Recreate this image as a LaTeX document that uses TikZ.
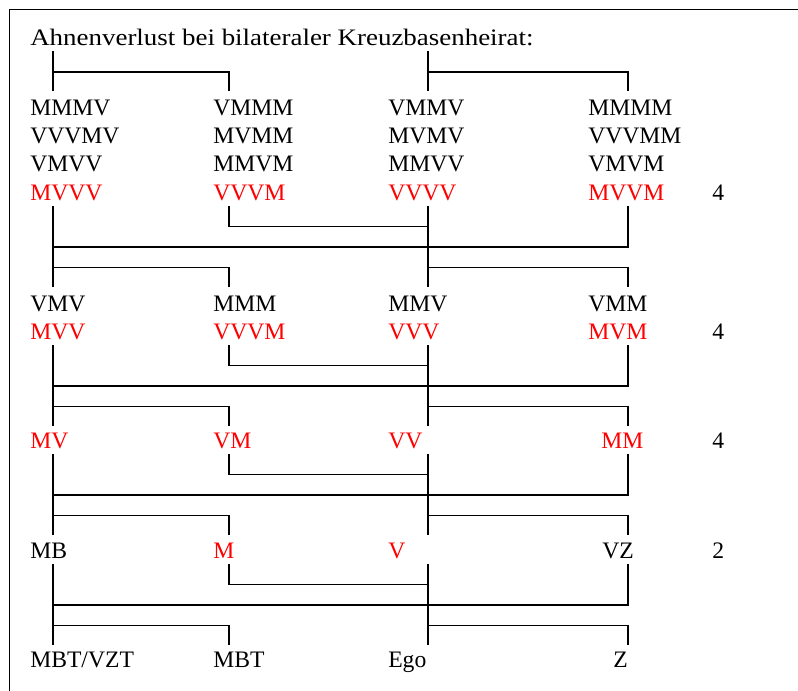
\documentclass[tikz,border=0pt]{standalone}
\usepackage{fontspec}
\setmainfont{Liberation Serif}
\usepackage{xcolor}
\usepackage{tikz}
\definecolor{Loss}{HTML}{FF0000}

\begin{document}
\begin{tikzpicture}[
	x = 0.025cm, y = -0.025cm,
	kin/.style = {anchor=base west, inner sep=0pt, font=\fontsize{16.8pt}{20.1pt}\selectfont},
	lost/.style = {kin, text=Loss},
	tally/.style = {kin},
	link/.style = {draw, line width=1.05pt}
]
  \useasboundingbox (0, 0) rectangle (798, 691);
  \draw[line width=1.1pt] (9.5, 691) -- (9.5, 9.5) -- (798, 9.5);

  \node[kin] at (30, 45) (title) {\scalebox{1.14}[1]{Ahnenverlust bei bilateraler Kreuzbasenheirat:}};

  % Great-great-grandparents, four lines per column
  \foreach \c/\x/\names/\lostname in {a/30/{MMMV,VVVMV,VMVV}/MVVV, b/213/{VMMM,MVMM,MMVM}/VVVM,
                                      c/388/{VMMV,MVMV,MMVV}/VVVV, d/588/{MMMM,VVVMM,VMVM}/MVVM} {
    \foreach \t [count=\i] in \names
      \node[kin] at (\x, {115+28.3*(\i-1)}) (\c4-\i) {\t};
    \node[lost] at (\x, 200) (\c4-4) {\lostname};
  }
  \node[kin] at (30, 311) (a3-1) {VMV};
  \node[lost] at (30, 339) (a3-2) {MVV};
  \node[kin] at (213, 311) (b3-1) {MMM};
  \node[lost] at (213, 339) (b3-2) {VVVM};
  \node[kin] at (388, 311) (c3-1) {MMV};
  \node[lost] at (388, 339) (c3-2) {VVV};
  \node[kin] at (588, 311) (d3-1) {VMM};
  \node[lost] at (588, 339) (d3-2) {MVM};
  \node[lost] at (30, 448) (a2-1) {MV};
  \node[lost] at (213, 448) (b2-1) {VM};
  \node[lost] at (388, 448) (c2-1) {VV};
  \node[lost] at (601, 448) (d2-1) {MM};
  \node[kin] at (30, 558) (a1-1) {MB};
  \node[lost] at (213, 558) (b1-1) {M};
  \node[lost] at (388, 558) (c1-1) {V};
  \node[kin] at (602, 558) (d1-1) {VZ};
  \node[kin] at (30, 667) (a0-1) {MBT/VZT};
  \node[kin] at (213, 667) (b0-1) {MBT};
  \node[kin] at (388, 667) (c0-1) {Ego};
  \node[kin] at (613, 667) (d0-1) {Z};

  % Lost ancestors per generation
  \node[tally] at (712, 200) (n4) {4};
  \node[tally] at (712, 339) (n3) {4};
  \node[tally] at (712, 448) (n2) {4};
  \node[tally] at (712, 558) (n1) {2};

  % Top row: two sibling pairs
  \coordinate (a5) at (53, 51);
  \coordinate (c5) at (428, 51);
  \coordinate (k5) at (0, 72);
  \coordinate (b5-up) at (229, 91);
  \coordinate (d5-up) at (628, 91);
  \draw[link] (a5) -- (a5 |- b5-up);
  \draw[link] (c5) -- (c5 |- d5-up);
  \draw[link] (a5 |- k5) -| (b5-up);
  \draw[link] (c5 |- k5) -| (d5-up);

  % Marriages and children between rows
  \foreach \g/\b in {4/206, 3/345, 2/454, 1/564} {
    \foreach \c/\x in {a/53, b/229, c/428, d/628} {
      \coordinate (\c\g) at (\x, \b);
      \coordinate (\c\g-up) at (\x, \b+81);
    }
    \coordinate (s\g) at (0, \b+20.5);
    \coordinate (o\g) at (0, \b+41);
    \coordinate (k\g) at (0, \b+61.5);
    \draw[link] (a\g) -- (a\g-up);
    \draw[link] (c\g) -- (c\g-up);
    \draw[link] (b\g) |- (c\g |- s\g);
    \draw[link] (a\g |- o\g) -| (d\g);
    \draw[link] (a\g |- k\g) -| (b\g-up);
    \draw[link] (c\g |- k\g) -| (d\g-up);
  }
\end{tikzpicture}
\end{document}
